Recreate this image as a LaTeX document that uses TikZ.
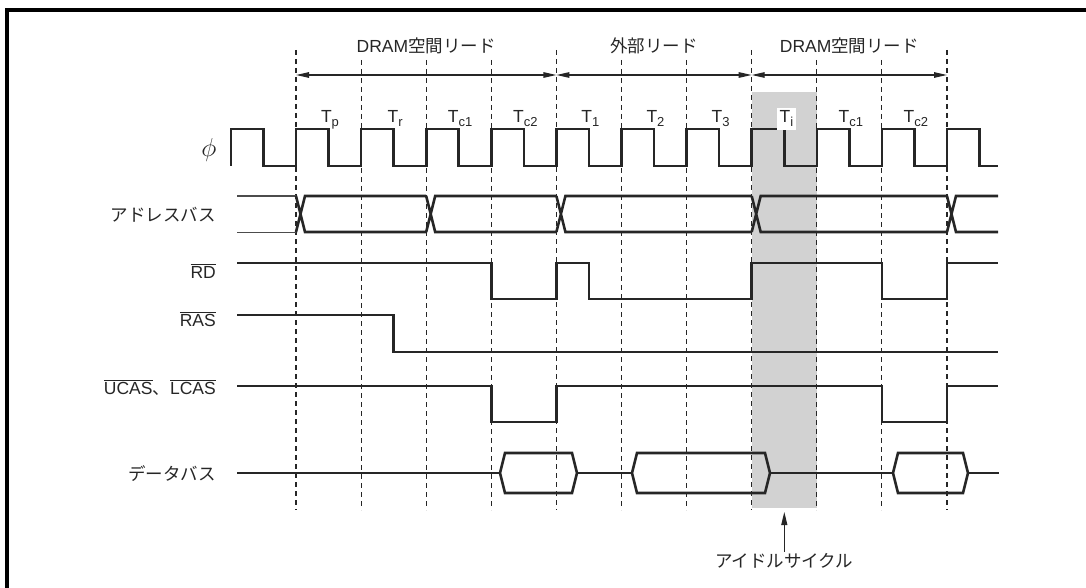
\documentclass[tikz,border=0pt]{standalone}
\usepackage{fontspec}
\setmainfont{Liberation Sans}
\newfontfamily\jp{Noto Sans CJK JP}
\usetikzlibrary{arrows.meta}
\newcommand\tsub[1]{T\raisebox{-4pt}{\fontsize{13}{15}\selectfont #1}}
\begin{document}
\begin{tikzpicture}[x=1pt,y=-1pt,
    sig/.style={line width=2.6pt, black!85},
    thinbus/.style={line width=1pt, black!70},
    grid/.style={line width=1.1pt, dash pattern=on 5pt off 4pt, black!85},
    span/.style={line width=1.2pt, black!85, {Triangle[length=13pt,width=5.5pt]}-{Triangle[length=13pt,width=5.5pt]}},
    lbl/.style={font=\fontsize{17.5}{21}\selectfont, text=black!85, inner sep=1pt},
    siglbl/.style={lbl, anchor=base east}]
\useasboundingbox (0,0) rectangle (1086,588);
% Frame
\draw[line width=3.3pt] (7,588) -- (7,10) -- (1086,10);

% Idle cycle band
\fill[gray!35] (751.7,92) rectangle (816.8,508);

% Cycle boundaries
\foreach \k in {0,...,10} \coordinate (c\k) at ({296+65.1*\k},75);
\foreach \k in {0,4,7,10} \draw[grid] ({296+65.1*\k},50) -- ({296+65.1*\k},510);
\foreach \k in {1,2,3,5,6,8,9} \draw[grid] ({296+65.1*\k},60) -- ({296+65.1*\k},510);

% Read spans
\draw[span] (c0) -- (c4);
\draw[span] (c4) -- (c7);
\draw[span] (c7) -- (c10);
\node[lbl, anchor=base] (spanA) at (426.2,53) {DRAM{\jp 空間リード}};
\node[lbl, anchor=base] (spanB) at (654,53) {\jp 外部リード};
\node[lbl, anchor=base] (spanC) at (849.4,53) {DRAM{\jp 空間リード}};

% Clock
\draw[sig] (230.9,166) \foreach \k in {-1,...,10} {
    -- ({296+65.1*\k},166) -- ({296+65.1*\k},129)
    -- ({296+65.1*\k+32.55},129) -- ({296+65.1*\k+32.55},166) } -- (998,166);
\foreach \k/\s in {0/p,1/r,2/c1,3/c2,4/1,5/2,6/3,8/c1,9/c2}
    \node[lbl, anchor=base] (t\k) at ({296+65.1*\k+34},123) {\tsub{\s}};
\node[lbl, anchor=base, fill=white, inner sep=3pt] (t7) at (786.5,123) {\tsub{i}};

% Signal names
\node[lbl] (lblphi) at (209,150) {\scalebox{1.5}{$\phi$}};
\node[siglbl] (lbladdr) at (217,222) {\jp アドレスバス};
\node[siglbl] (lblrd) at (217,278) {$\overline{\mbox{RD}}$};
\node[siglbl] (lblras) at (217,326) {$\overline{\mbox{RAS}}$};
\node[siglbl] (lblcas) at (217,394) {$\overline{\mbox{UCAS}}${\jp 、}$\overline{\mbox{LCAS}}$};
\node[siglbl] (lbldata) at (217,480) {\jp データバス};

% Address bus
\draw[thinbus] (237,196) -- (296,196) (237,232) -- (296,232);
\foreach \a/\b in {296/426.2,426.2/556.4,556.4/751.7,751.7/947,947/998}
    \draw[sig] (\a,196) -- (\a+9,232) -- (\b,232) (\a,232) -- (\a+9,196) -- (\b,196);

% RD, RAS, UCAS/LCAS
\draw[sig] (237,263) -- (491.2,263) -- (491.2,299) -- (556.4,299) -- (556.4,263)
    -- (588.9,263) -- (588.9,299) -- (751.7,299) -- (751.7,263) -- (881.9,263)
    -- (881.9,299) -- (947,299) -- (947,263) -- (998,263);
\draw[sig] (237,315) -- (393.7,315) -- (393.7,352) -- (998,352);
\draw[sig] (237,386) -- (491.2,386) -- (491.2,422) -- (556.4,422) -- (556.4,386)
    -- (881.9,386) -- (881.9,422) -- (947,422) -- (947,386) -- (998,386);

% Data bus
\draw[sig] (237,473) -- (500,473) (577,473) -- (632,473) (770,473) -- (893,473) (968,473) -- (999,473);
\foreach \a/\b in {500/577,632/770,893/968}
    \draw[sig] (\a,473) -- (\a+5,453) -- (\b-5,453) -- (\b,473) -- (\b-5,493) -- (\a+5,493) -- cycle;

% Idle cycle
\coordinate (idletip) at (784.3,512);
\node[lbl, anchor=base] (idle) at (784.3,567) {\jp アイドルサイクル};
\draw[line width=1.2pt, black!85, -{Triangle[length=13pt,width=6pt]}] (idle.north) -- (idletip);
\end{tikzpicture}
\end{document}
